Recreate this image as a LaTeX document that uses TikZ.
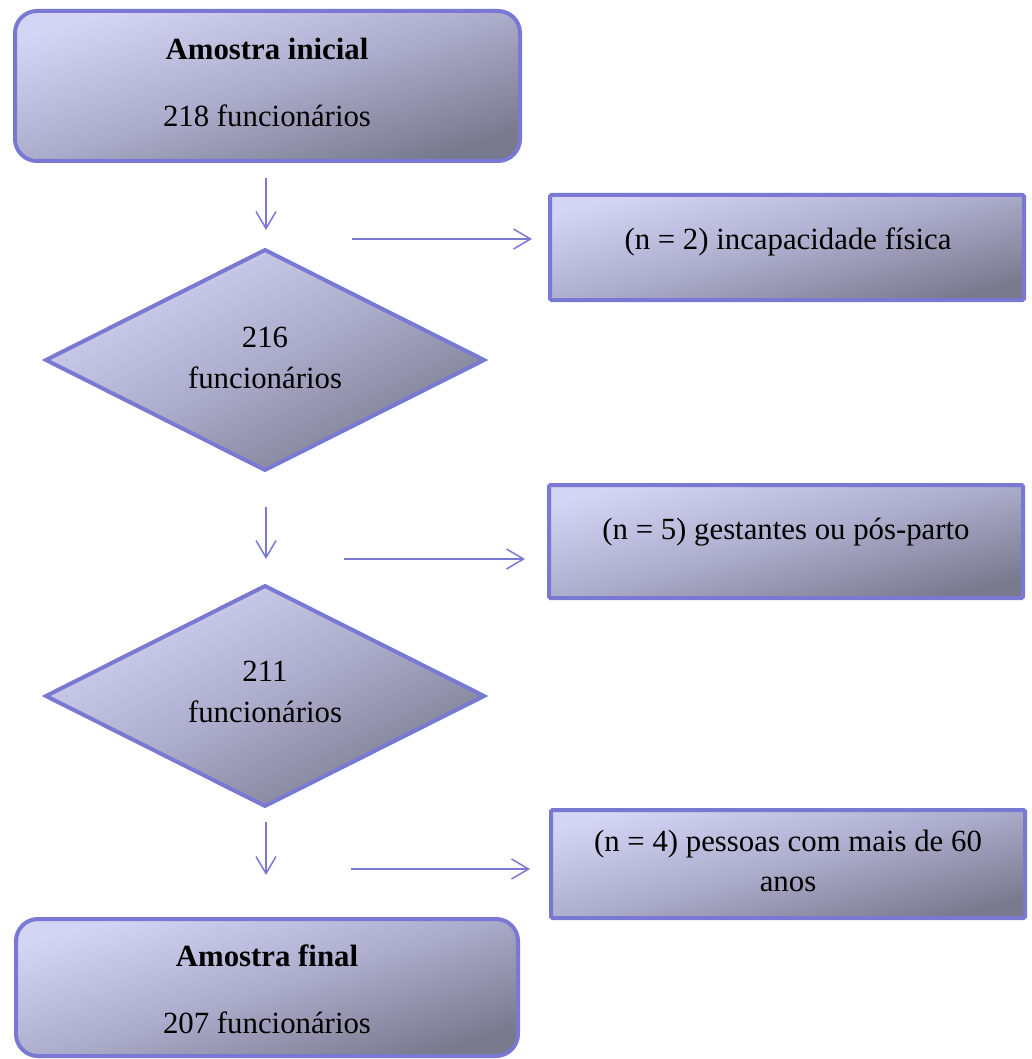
\documentclass[tikz,border=0pt]{standalone}
\usepackage{fontspec}
\setmainfont{Liberation Serif}
\usetikzlibrary{shapes.geometric,arrows.meta}
\definecolor{bord}{RGB}{121,121,212}
\definecolor{flight}{RGB}{212,212,244}
\definecolor{fmid}{RGB}{172,172,204}
\definecolor{fdark}{RGB}{122,122,142}
\tikzset{
  shadefill/.style={top color=flight, bottom color=fdark, middle color=fmid, shading angle=#1},
  roundbox/.style={draw=bord, line width=4pt, rounded corners=22pt, inner sep=0pt, outer sep=0pt, shadefill=17},
  rectbox/.style={draw=bord, line width=4pt, rounded corners=1.5pt, inner sep=0pt, outer sep=0pt, shadefill=14},
  diabox/.style={diamond, draw=bord, line width=4pt, inner sep=0pt, outer sep=0pt, shadefill=27},
  lbl/.style={anchor=base, inner sep=0pt, font=\fontsize{30.8}{36}\selectfont},
  arr/.style={draw=bord, line width=1.5pt, -{Straight Barb[length=17pt, width=20pt]}}
}
\begin{document}
\begin{tikzpicture}[x=1pt, y=-1pt]
\useasboundingbox (0,0) rectangle (1032,1059);
% shapes
\node[roundbox, minimum width=505pt, minimum height=150pt] (top) at (267.5,86) {};
\node[rectbox, minimum width=474pt, minimum height=105pt] (ex1) at (787,247.5) {};
\node[diabox, minimum width=438pt, minimum height=220pt] (d1) at (265,360) {};
\node[rectbox, minimum width=474pt, minimum height=113pt] (ex2) at (786,541.5) {};
\node[diabox, minimum width=438pt, minimum height=220pt] (d2) at (265,696) {};
\node[rectbox, minimum width=474pt, minimum height=108pt] (ex3) at (788,864) {};
\node[roundbox, minimum width=502pt, minimum height=137pt] (bot) at (267,987.5) {};
% texts
\node[lbl] (t1a) at (267,60) {\textbf{Amostra inicial}};
\node[lbl] (t1b) at (267,127) {218 funcionários};
\node[lbl] (t2) at (788,249) {(n = 2) incapacidade física};
\node[lbl] (t3a) at (265,347) {216};
\node[lbl] (t3b) at (265,388) {funcionários};
\node[lbl] (t4) at (786,539) {(n = 5) gestantes ou pós-parto};
\node[lbl] (t5a) at (265,681) {211};
\node[lbl] (t5b) at (265,722) {funcionários};
\node[lbl] (t6a) at (788,851) {(n = 4) pessoas com mais de 60};
\node[lbl] (t6b) at (788,891) {anos};
\node[lbl] (t7a) at (267,966) {\textbf{Amostra final}};
\node[lbl] (t7b) at (267,1033) {207 funcionários};
% connector ends
\coordinate (a1s) at (266,178);
\coordinate (a1e) at (266,230);
\coordinate (h1s) at (352,239);
\coordinate (h1e) at (532,239);
\coordinate (a2s) at (266,507);
\coordinate (a2e) at (266,559);
\coordinate (h2s) at (344,559);
\coordinate (h2e) at (525,559);
\coordinate (a3s) at (266,822);
\coordinate (a3e) at (266,875);
\coordinate (h3s) at (351,869);
\coordinate (h3e) at (530,869);
\draw[arr] (a1s) -- (a1e);
\draw[arr] (h1s) -- (h1e);
\draw[arr] (a2s) -- (a2e);
\draw[arr] (h2s) -- (h2e);
\draw[arr] (a3s) -- (a3e);
\draw[arr] (h3s) -- (h3e);
\end{tikzpicture}
\end{document}
